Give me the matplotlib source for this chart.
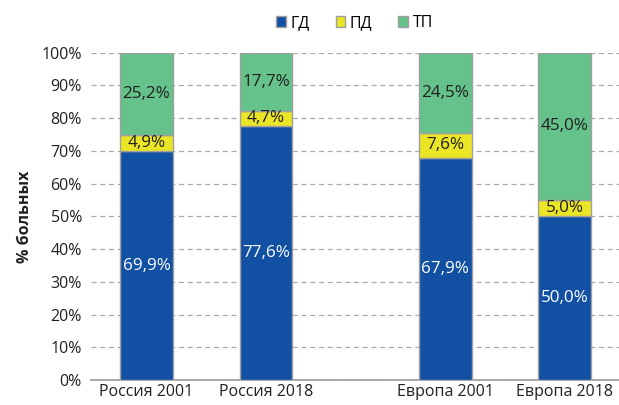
import matplotlib.pyplot as plt
import numpy as np

plt.rcParams['font.family'] = ['Open Sans', 'DejaVu Sans']

categories = ['Россия 2001', 'Россия 2018', 'Европа 2001', 'Европа 2018']
positions = [0, 1, 2.5, 3.5]
series = ['ГД', 'ПД', 'ТП']
gd = [69.9, 77.6, 67.9, 50.0]
pd_ = [4.9, 4.7, 7.6, 5.0]
tp = [25.2, 17.7, 24.5, 45.0]
y_ticks = [0, 10, 20, 30, 40, 50, 60, 70, 80, 90, 100]

colors = ['#1150A3', '#EAE625', '#64C28A']
text_colors = ['white', '#231F20', '#231F20']
fs = 11.5

fig = plt.figure(figsize=(6.19, 4.05), dpi=100)
ax = fig.add_axes([91 / 619, 0.0617, 1 - 91 / 619, 0.870 - 0.0617])

# stacked bars with value labels
bottom = np.zeros(len(categories))
for name, vals, c, tc in zip(series, [gd, pd_, tp], colors, text_colors):
    vals = np.array(vals)
    ax.bar(positions, vals, 0.44, bottom=bottom, color=c, edgecolor='#a0a0a0',
           linewidth=1.0, label=name, zorder=3)
    for x, b, v in zip(positions, bottom, vals):
        ax.text(x, b + v / 2, f'{v:.1f}%'.replace('.', ','), ha='center', va='center',
                color=tc, fontsize=12.3, zorder=4)
    bottom += vals

ax.set_xlim(-0.464, 3.954)
ax.set_ylim(0, 100)
ax.set_xticks(positions)
ax.set_xticklabels(categories, fontsize=fs, color='#231F20')
ax.set_yticks(y_ticks)
ax.set_yticklabels([f'{t}%' for t in y_ticks], fontsize=fs, color='#231F20')
ax.tick_params(axis='y', length=0, pad=6.5)
ax.tick_params(axis='x', length=0, pad=3)
ax.yaxis.grid(True, linestyle=(0, (4, 3)), color='#aaaaaa', linewidth=0.9, zorder=0)
for s in ['top', 'right', 'left']:
    ax.spines[s].set_visible(False)
ax.spines['bottom'].set_color('#999999')
ax.spines['bottom'].set_linewidth(1.2)
ax.set_ylabel('% больных', fontsize=fs, fontweight='bold', color='#231F20')
ax.yaxis.set_label_coords(-0.11, 0.5)

fig.legend(loc='center', bbox_to_anchor=(0.573, 0.943), ncol=3, frameon=False,
           fontsize=fs, handlelength=0.6, handleheight=0.6, handletextpad=0.3,
           columnspacing=1.6)

fig.savefig('out.png', dpi=100)
